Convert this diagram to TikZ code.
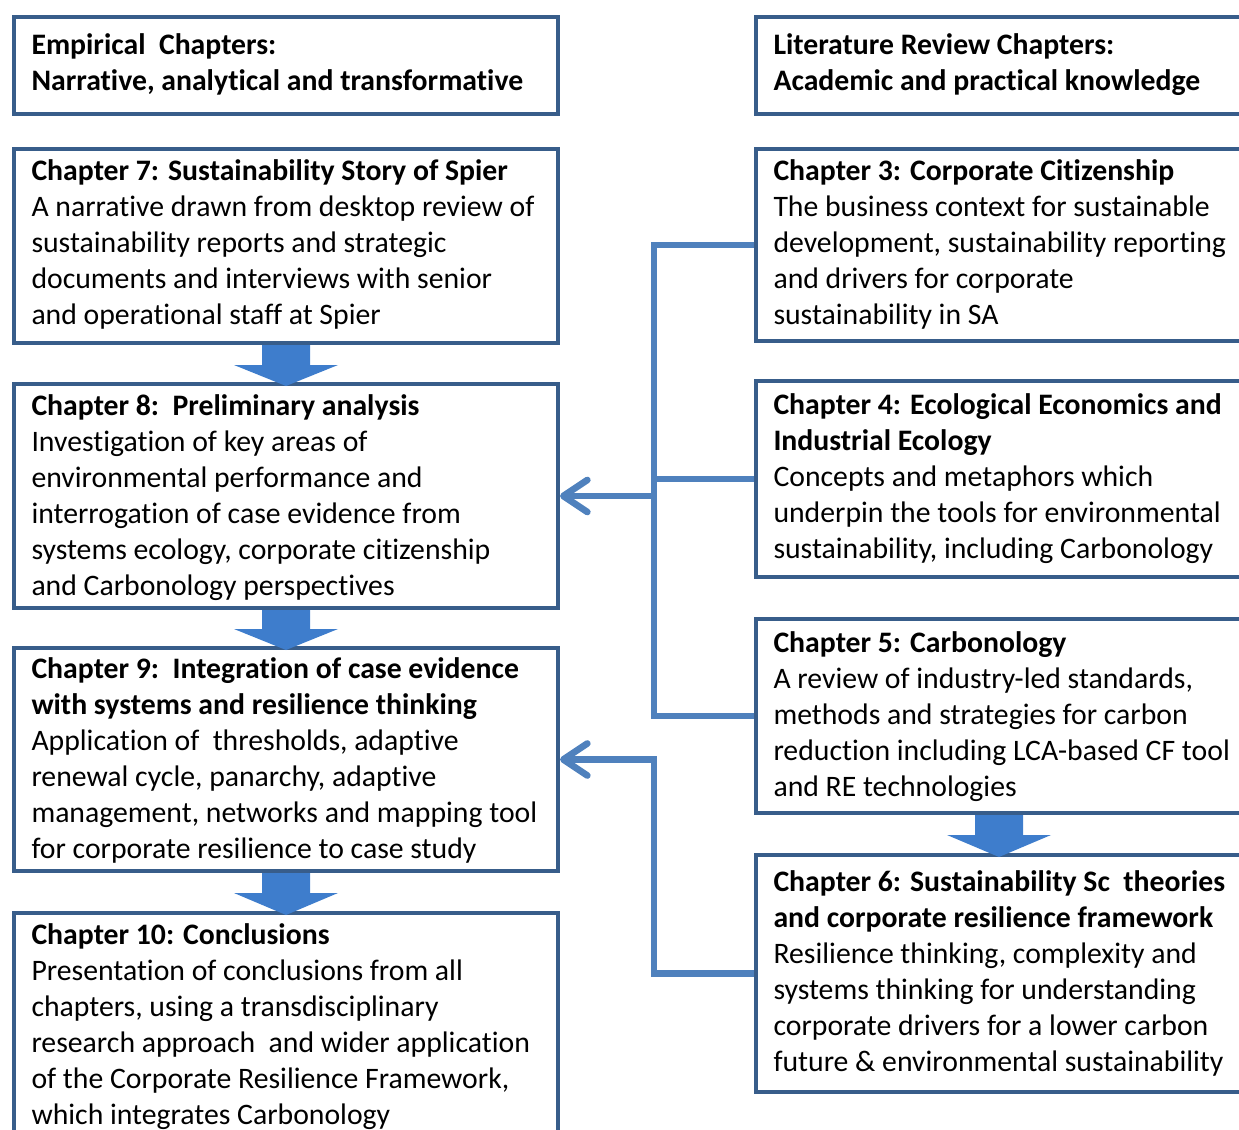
\documentclass[tikz,border=0pt]{standalone}
\usepackage{fontspec}
\setmainfont{Carlito}[Ligatures=NoCommon]
\usetikzlibrary{arrows.meta}

\definecolor{boxline}{RGB}{56,93,138}
\definecolor{linkblue}{RGB}{79,129,189}
\definecolor{fatblue}{RGB}{62,125,204}

\tikzset{every picture/.style={line width=0.75pt}}
\tikzset{
  chbox/.style={draw=boxline, line width=3pt, rectangle, anchor=north west, inner sep=0pt, fill=white},
  leftbox/.style={chbox, minimum width=408pt},
  rightbox/.style={chbox, minimum width=364.5pt},
  chtext/.style={anchor=north west, inner sep=0pt, align=left, font=\fontsize{22.3}{27}\selectfont},
  link/.style={draw=linkblue, line width=5pt},
  linkarrow/.style={link, -{Straight Barb[length=18pt,width=24pt,round]}},
  fatarrow/.style={fill=fatblue},
}

\begin{document}
\begin{tikzpicture}[x=0.75pt,y=0.75pt,yscale=-1,xscale=1]
\useasboundingbox (0,0) rectangle (1239,1129);
\clip (0,0) rectangle (1239,1129);

%Boxes left
\node [leftbox, minimum height=72.75pt] (empirical) at (12,15) {};
\node [leftbox, minimum height=145.5pt] (ch7) at (12,147) {};
\node [leftbox, minimum height=168pt] (ch8) at (12,382) {};
\node [leftbox, minimum height=167.25pt] (ch9) at (12,646) {};
\node [leftbox, minimum height=187pt] (ch10) at (12,911) {};

%Boxes right
\node [rightbox, minimum height=72.75pt] (litreview) at (754,15) {};
\node [rightbox, minimum height=144pt] (ch3) at (754,147) {};
\node [rightbox, minimum height=147pt] (ch4) at (754,379) {};
\node [rightbox, minimum height=145.5pt] (ch5) at (754,617) {};
\node [rightbox, minimum height=177.75pt] (ch6) at (754,853) {};

%Block arrows
\fill [fatarrow] (ch7.south) +(-24,0) -- +(24,0) -- +(24,20) -- +(52,20) -- +(0,41) -- +(-52,20) -- +(-24,20) -- cycle;
\fill [fatarrow] (ch8.south) +(-24,0) -- +(24,0) -- +(24,19) -- +(52,19) -- +(0,40) -- +(-52,19) -- +(-24,19) -- cycle;
\fill [fatarrow] (ch9.south) +(-24,0) -- +(24,0) -- +(24,20) -- +(52,20) -- +(0,42) -- +(-52,20) -- +(-24,20) -- cycle;
\fill [fatarrow] (ch5.south) +(-24,0) -- +(24,0) -- +(24,20) -- +(52,20) -- +(0,42) -- +(-52,20) -- +(-24,20) -- cycle;

%Connectors
\coordinate (bus) at (654,0);
\draw [link] (ch3.west) -| (bus |- ch5.west) -- (ch5.west);
\draw [link] (ch4.west) -- (bus |- ch4.west);
\draw [linkarrow] (bus |- ch8.east) -- (ch8.east);
\draw [linkarrow] (ch6.west) -| (bus |- ch9.east) -- (ch9.east);

% Text Nodes
\node [chtext] (emptext) at (31,33) {\textbf{Empirical\ \ Chapters:}\\\textbf{Narrative, analytical and transformative}};
\node [chtext] (ch7text) at (31,159) {\textbf{Chapter 7: Sustainability Story of Spier}\\A narrative drawn from desktop review of\\sustainability reports and strategic\\documents and interviews with senior\\and operational staff at Spier};
\node [chtext] (ch8text) at (31,394) {\textbf{Chapter 8:\ \ Preliminary analysis}\\Investigation of key areas of\\environmental performance and\\interrogation of case evidence from\\systems ecology, corporate citizenship\\and Carbonology perspectives};
\node [chtext] (ch9text) at (31,657) {\textbf{Chapter 9:\ \ Integration of case evidence}\\\textbf{with systems and resilience thinking}\\Application of\ \ thresholds, adaptive\\renewal cycle, panarchy, adaptive\\management, networks and mapping tool\\for corporate resilience to case study};
\node [chtext] (ch10text) at (31,923) {\textbf{Chapter 10: Conclusions}\\Presentation of conclusions from all\\chapters, using a transdisciplinary\\research approach\ \ and wider application\\of the Corporate Resilience Framework,\\which integrates Carbonology};

\node [chtext] (littext) at (773,33) {\textbf{Literature Review Chapters:}\\\textbf{Academic and practical knowledge}};
\node [chtext] (ch3text) at (773,159) {\textbf{Chapter 3: Corporate Citizenship}\\The business context for sustainable\\development, sustainability reporting\\and drivers for corporate\\sustainability in SA};
\node [chtext] (ch4text) at (773,393) {\textbf{Chapter 4: Ecological Economics and}\\\textbf{Industrial Ecology}\\Concepts and metaphors which\\underpin the tools for environmental\\sustainability, including Carbonology};
\node [chtext] (ch5text) at (773,631) {\textbf{Chapter 5: Carbonology}\\A review of industry-led standards,\\methods and strategies for carbon\\reduction including LCA-based CF tool\\and RE technologies};
\node [chtext] (ch6text) at (773,870) {\textbf{Chapter 6: Sustainability Sc\ \ theories}\\\textbf{and corporate resilience framework}\\Resilience thinking, complexity and\\systems thinking for understanding\\corporate drivers for a lower carbon\\future \& environmental sustainability};

\end{tikzpicture}
\end{document}
